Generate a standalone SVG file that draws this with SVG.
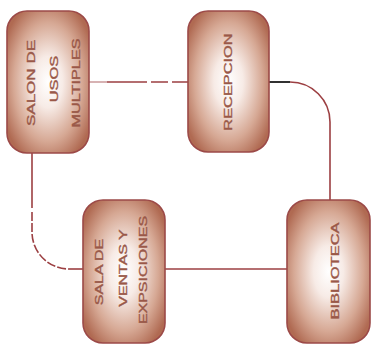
<svg xmlns="http://www.w3.org/2000/svg" width="376" height="360" viewBox="0 0 376 360">
<defs>
<radialGradient id="g" cx="50%" cy="50%" r="60%">
<stop offset="0" stop-color="#ffffff"/>
<stop offset="0.3" stop-color="#f7ebe6"/>
<stop offset="0.7" stop-color="#d6a894"/>
<stop offset="1" stop-color="#b06a52"/>
</radialGradient>
</defs>
<style>
.box{fill:url(#g);stroke:#9c4a48;stroke-width:1.6}
.t{font-family:"Liberation Sans",Arial,sans-serif;font-size:11px;fill:#9a5848;stroke:#9a5848;stroke-width:0.35;text-anchor:middle}
.c{fill:none;stroke:#9c3f42;stroke-width:1.6}
</style>
<g id="connectors">
<path class="c" d="M89,82 H107" stroke-opacity="0.5"/>
<path class="c" d="M107,82 H147 M151,82 H168 M172,82 H188"/>
<path d="M269,82 H290" fill="none" stroke="#1a1a1a" stroke-width="1.8"/>
<path class="c" d="M290,82 A40,40 0 0 1 330,122 V200"/>
<path class="c" d="M32,153 V208"/>
<path class="c" d="M32,212 V232 A37,37 0 0 0 69,269" stroke-dasharray="9 2"/>
<path class="c" d="M69,269 H83"/>
<path class="c" d="M165,269 H287"/>
</g>
<g id="salon">
<rect class="box" x="7" y="11" width="82" height="142" rx="20"/>
<text class="t" transform="translate(35,83) rotate(-90) scale(1.55,1)">SALON DE</text>
<text class="t" transform="translate(58,79) rotate(-90) scale(1.5,1)">USOS</text>
<text class="t" transform="translate(80,83) rotate(-90) scale(1.48,1)">MULTIPLES</text>
</g>
<g id="recepcion">
<rect class="box" x="188" y="11" width="81" height="141" rx="20"/>
<text class="t" transform="translate(232,82) rotate(-90) scale(1.49,1)">RECEPCION</text>
</g>
<g id="sala">
<rect class="box" x="83" y="200" width="82" height="143" rx="20"/>
<text class="t" transform="translate(103,272) rotate(-90) scale(1.45,1)">SALA DE</text>
<text class="t" transform="translate(127,268) rotate(-90) scale(1.45,1)">VENTAS Y</text>
<text class="t" transform="translate(147,270) rotate(-90) scale(1.45,1)">EXPSICIONES</text>
</g>
<g id="biblioteca">
<rect class="box" x="287" y="200" width="83" height="143" rx="20"/>
<text class="t" transform="translate(339,271) rotate(-90) scale(1.5,1)">BIBLIOTECA</text>
</g>
</svg>
